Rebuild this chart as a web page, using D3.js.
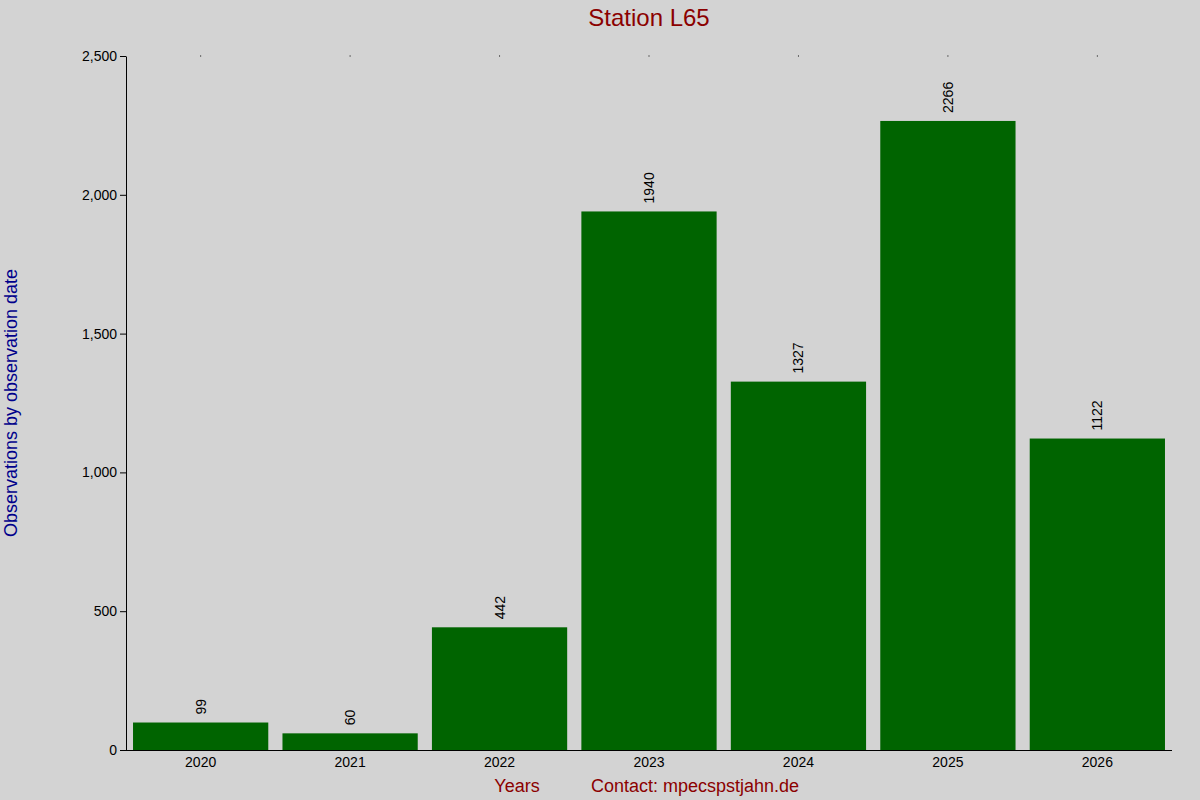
<!DOCTYPE html>
<html><head><meta charset="utf-8">
<script src="https://cdn.jsdelivr.net/npm/d3@7"></script>
<style>body{margin:0;background:#d3d3d3;font-family:"Liberation Sans",Arial,sans-serif}</style>
</head><body><svg id="c" width="1200" height="800"></svg>
<script>
const years = ["2020","2021","2022","2023","2024","2025","2026"];
const counts = [99,60,442,1940,1327,2266,1122];
const yTicks = [0,500,1000,1500,2000,2500];

const svg = d3.select("#c");
svg.append("rect").attr("width",1200).attr("height",800).attr("fill","#d3d3d3");
const L=126,R=1172,T=56,B=750;
const x = d3.scaleBand().domain(years).range([L,R]).paddingInner(0.095).paddingOuter(0.047);
const y = d3.scaleLinear().domain([0,2500]).range([B,T]);

svg.selectAll(".bar").data(years).enter().append("rect")
 .attr("x",d=>x(d)).attr("width",x.bandwidth())
 .attr("y",(d,i)=>y(counts[i])).attr("height",(d,i)=>B-y(counts[i]))
 .attr("fill","#006400");

svg.selectAll(".lbl").data(years).enter().append("text")
 .attr("transform",(d,i)=>`translate(${x(d)+x.bandwidth()/2+5},${y(counts[i])-8}) rotate(-90)`)
 .attr("font-size",14).attr("fill","#000").text((d,i)=>counts[i]);

// top dots
svg.selectAll(".dot").data(years).enter().append("rect")
 .attr("x",d=>x(d)+x.bandwidth()/2-0.5).attr("y",T-0.5).attr("width",1).attr("height",1).attr("fill","#000");

const ya = svg.append("g").attr("transform",`translate(${L},0)`)
 .call(d3.axisLeft(y).tickValues(yTicks).tickSize(6).tickSizeOuter(0));
ya.selectAll("text").attr("font-size",14).attr("font-family","Liberation Sans, Arial").attr("fill","#000");
const xa = svg.append("g").attr("transform",`translate(0,${B})`)
 .call(d3.axisBottom(x).tickSize(0).tickPadding(7).tickSizeOuter(0));
xa.selectAll("text").attr("font-size",14).attr("font-family","Liberation Sans, Arial").attr("fill","#000");
xa.select(".domain").attr("d",`M${L},0.5H${R}`);
svg.selectAll(".domain").attr("stroke","#000");

svg.append("text").attr("x",(L+R)/2).attr("y",26).attr("text-anchor","middle")
 .attr("font-size",24).attr("fill","#8b0000").text("Station L65");
svg.append("text").attr("transform",`translate(17,403) rotate(-90)`).attr("text-anchor","middle")
 .attr("font-size",18).attr("fill","#00008b").text("Observations by observation date");
svg.append("text").attr("x",517).attr("y",792).attr("text-anchor","middle")
 .attr("font-size",18).attr("fill","#8b0000").text("Years");
svg.append("text").attr("x",591).attr("y",792)
 .attr("font-size",18).attr("fill","#8b0000").text("Contact: mpecspstjahn.de");
</script></body></html>
